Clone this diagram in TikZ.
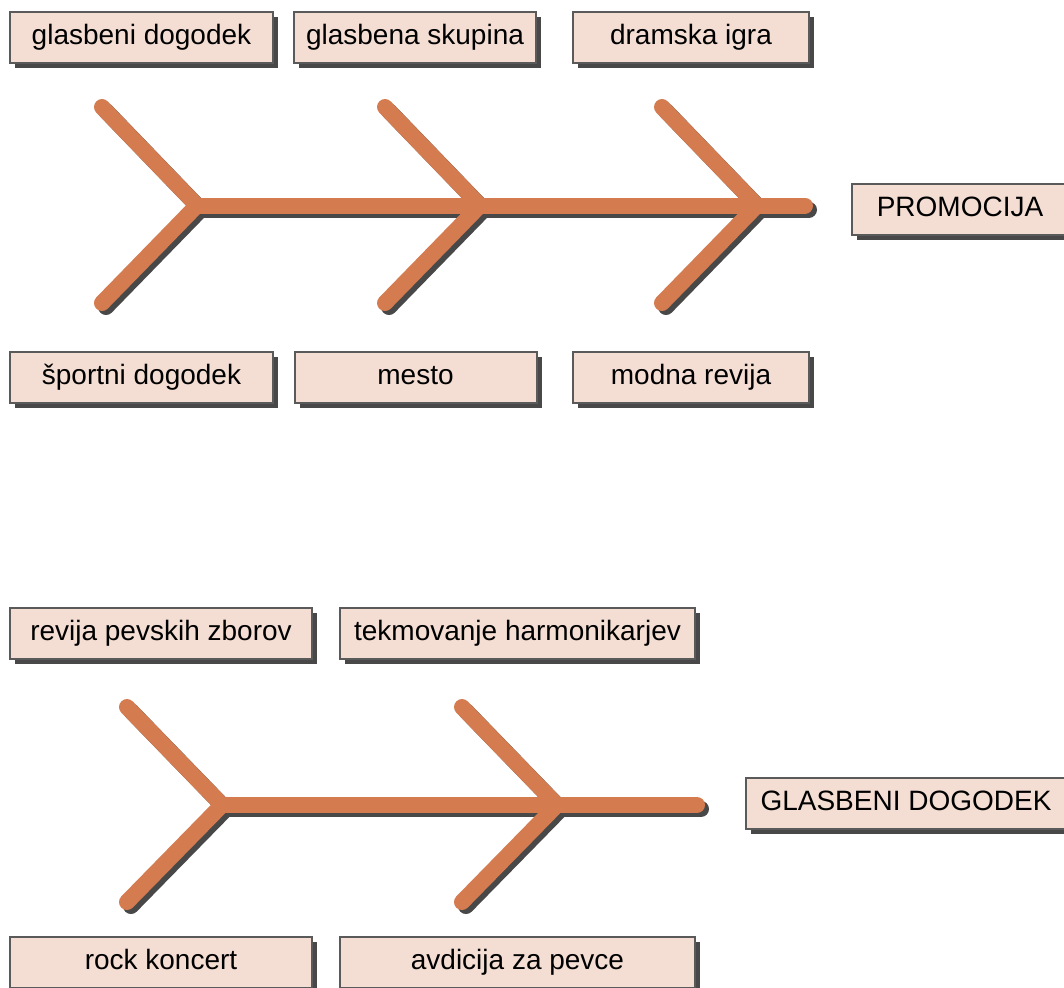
\documentclass[tikz,border=0pt]{standalone}
\usepackage{fontspec}
\setmainfont{Liberation Sans}
\usetikzlibrary{shadows}
\definecolor{boxfill}{HTML}{F4DDD3}
\definecolor{boxline}{HTML}{5A5A5A}
\definecolor{shadowgray}{HTML}{484848}
\definecolor{bonecolor}{HTML}{D47B50}
\begin{document}
\begin{tikzpicture}[x=0.5pt, y=-0.5pt,
    box/.style = {draw=boxline, line width=1pt, fill=boxfill, inner sep=0pt,
        minimum height=25.5pt, text height=10pt, text depth=3pt,
        font=\fontsize{14}{17}\selectfont,
        drop shadow={shadow xshift=2.5pt, shadow yshift=-2.5pt, fill=shadowgray, opacity=1}},
    bone/.style = {line width=8pt, line cap=round, line join=round, color=bonecolor},
    boneshadow/.style = {bone, color=shadowgray, transform canvas={shift={(2pt,-2pt)}}}]

    \useasboundingbox (0,0) rectangle (1064,987);

    % promocija
    \node [box, minimum width=131.5pt] (gd) at (141.5, 37.5) {glasbeni dogodek};
    \node [box, minimum width=121pt] (gs) at (415, 37.5) {glasbena skupina};
    \node [box, minimum width=118pt] (di) at (691, 37.5) {dramska igra};
    \node [box, minimum width=131.5pt] (sd) at (141.5, 377) {športni dogodek};
    \node [box, minimum width=121pt] (me) at (415.5, 377) {mesto};
    \node [box, minimum width=118pt] (mr) at (691, 377) {modna revija};
    \node [box, minimum width=108pt] (pr) at (960, 209) {PROMOCIJA};

    \coordinate (a1) at (102, 107);  \coordinate (a2) at (197, 205.5);  \coordinate (a3) at (102, 303);
    \coordinate (b1) at (385, 107);  \coordinate (b2) at (480, 205.5);  \coordinate (b3) at (385, 303);
    \coordinate (c1) at (662, 107);  \coordinate (c2) at (757, 205.5);  \coordinate (c3) at (662, 303);
    \coordinate (s1) at (805, 205.5);

    % glasbeni dogodek
    \node [box, minimum width=151pt] (rz) at (161, 633.5) {revija pevskih zborov};
    \node [box, minimum width=177.5pt] (th) at (517.5, 633.5) {tekmovanje harmonikarjev};
    \node [box, minimum width=151pt] (rk) at (161, 962.5) {rock koncert};
    \node [box, minimum width=177.5pt] (ap) at (517.5, 962.5) {avdicija za pevce};
    \node [box, minimum width=160pt] (gl) at (906, 803) {GLASBENI DOGODEK};

    \coordinate (d1) at (127, 707);  \coordinate (d2) at (222, 805);  \coordinate (d3) at (127, 902);
    \coordinate (e1) at (462, 707);  \coordinate (e2) at (557, 805);  \coordinate (e3) at (462, 902);
    \coordinate (s2) at (697, 805);

    \foreach \st in {boneshadow, bone} {
        \draw[\st] (a1) -- (a2) -- (a3);
        \draw[\st] (b1) -- (b2) -- (b3);
        \draw[\st] (c1) -- (c2) -- (c3);
        \draw[\st] (a2) -- (s1);
        \draw[\st] (d1) -- (d2) -- (d3);
        \draw[\st] (e1) -- (e2) -- (e3);
        \draw[\st] (d2) -- (s2);
    }

\end{tikzpicture}
\end{document}
